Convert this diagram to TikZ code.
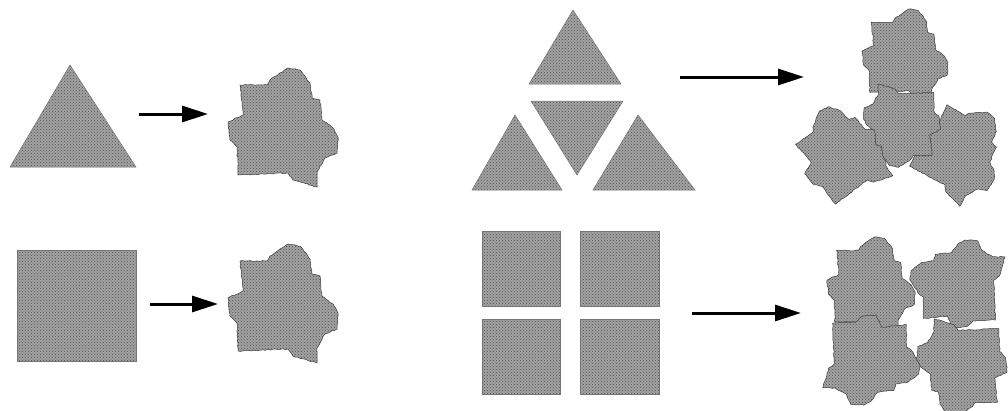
\documentclass[tikz,border=0pt]{standalone}
\usepackage{tikz}
\usetikzlibrary{arrows.meta,patterns,decorations.pathmorphing}
\definecolor{stone}{HTML}{A2A2A2}
\definecolor{stoneink}{HTML}{3A3A3A}
\tikzset{
  tile/.style={preaction={fill=stone}, pattern=crosshatch dots, pattern color=stone!50!black, draw=stoneink!70, line width=0.5pt},
  blob/.style={tile, draw=stoneink, decorate, decoration={random steps, segment length=2.5pt, amplitude=0.5pt}},
  arr/.style={-{Triangle[length=26pt, width=16pt]}, line width=3pt, color=black},
}
% outline of a deformed tile, centred on (0,0)
\newcommand{\blobpath}{(5,-59) -- (17,-57) -- (27,-44) -- (29,-29) -- (37,-27) -- (39,-7) -- (50,1) -- (55,10) -- (54,26) -- (42,31) -- (34,45) -- (34,60) -- (10,53) -- (5,46) -- (-45,48) -- (-46,20) -- (-53,13) -- (-55,-5) -- (-40,-12) -- (-43,-42) -- (-16,-42) -- (-13,-47) -- cycle}
\newcommand{\blobat}[3]{\begin{scope}[shift={#1}, rotate=#2, scale=#3]\path[blob] \blobpath;\end{scope}}

\begin{document}
\begin{tikzpicture}[x=1pt, y=-1pt]
  \useasboundingbox (0,0) rectangle (1008,410);
  % left column: single triangle and single square
  \path[tile] (70,65) -- (136,167) -- (10,167) -- cycle;
  \path[tile] (17,250) rectangle (136,361);
  \blobat{(283,127)}{0}{1}
  \blobat{(283,303)}{0}{1}
  % right column: split triangle
  \path[tile] (573,10) -- (621,84) -- (529,84) -- cycle;
  \path[tile] (531,101) -- (623,101) -- (577,175) -- cycle;
  \path[tile] (515,115) -- (562,190) -- (472,190) -- cycle;
  \path[tile] (638,115) -- (695,190) -- (593,190) -- cycle;
  % right column: split square
  \path[tile] (482,231) rectangle (560,306);
  \path[tile] (580,231) rectangle (659,306);
  \path[tile] (482,319) rectangle (560,394);
  \path[tile] (580,319) rectangle (659,394);
  % deformed clusters
  \blobat{(843,152)}{35}{0.8}
  \blobat{(960,151)}{-30}{0.8}
  \blobat{(905,55)}{0}{0.78}
  \blobat{(902,126)}{180}{0.7}
  \blobat{(871,284)}{0}{0.8}
  \blobat{(957,284)}{90}{0.8}
  \blobat{(872,360)}{-90}{0.82}
  \blobat{(962,368)}{180}{0.82}
  % arrows
  \coordinate (t1s) at (139,114); \coordinate (t1e) at (208,114);
  \coordinate (s1s) at (150,304); \coordinate (s1e) at (218,304);
  \coordinate (t4s) at (680,77);  \coordinate (t4e) at (804,77);
  \coordinate (s4s) at (692,313); \coordinate (s4e) at (801,313);
  \draw[arr] (t1s) -- (t1e);
  \draw[arr] (s1s) -- (s1e);
  \draw[arr] (t4s) -- (t4e);
  \draw[arr] (s4s) -- (s4e);
\end{tikzpicture}
\end{document}
